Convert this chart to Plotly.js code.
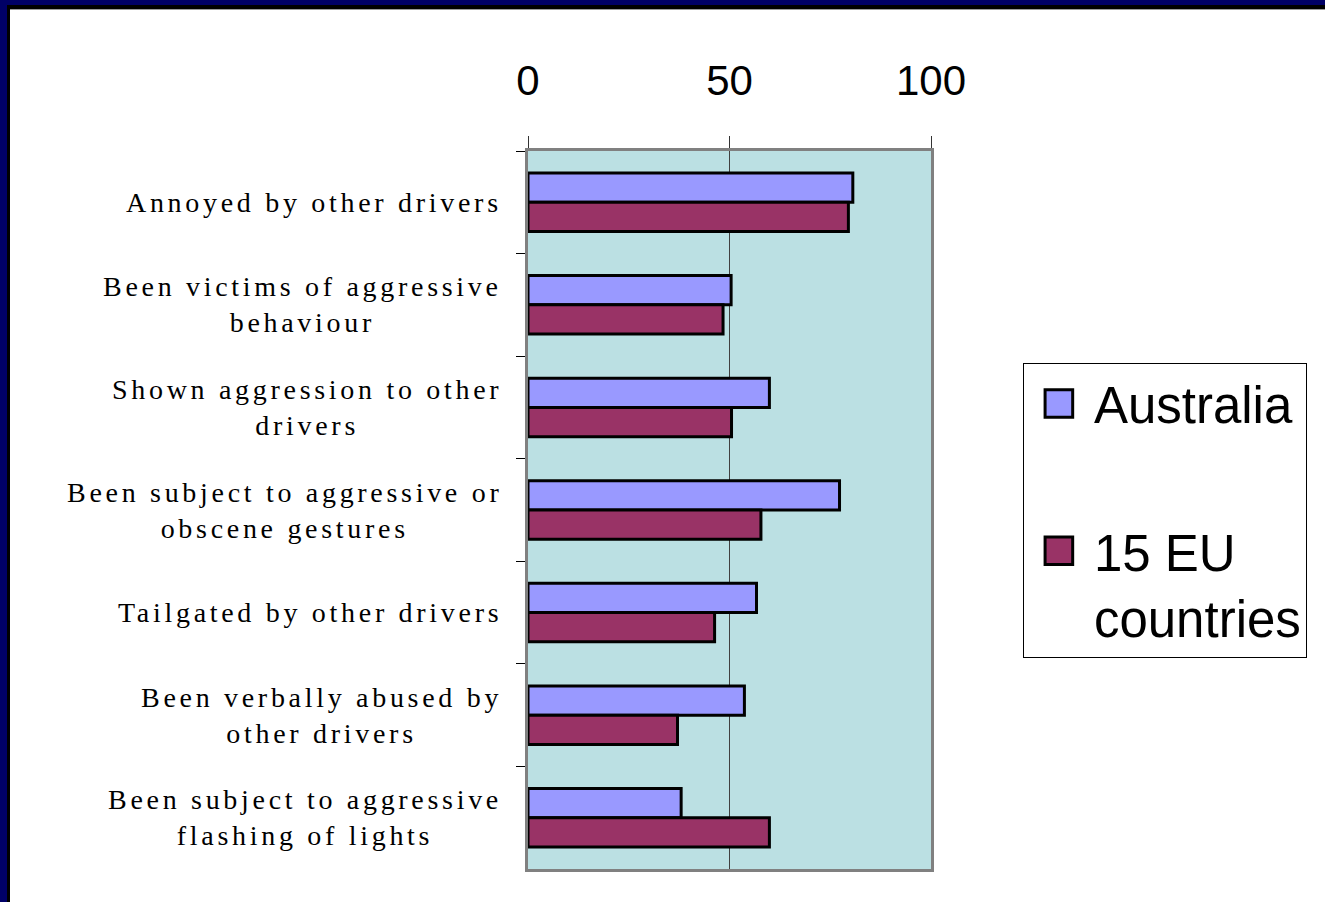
<!DOCTYPE html>
<html>
<head>
<meta charset="utf-8">
<script src="https://cdn.plot.ly/plotly-3.0.1.min.js"></script>
<style>
  html, body { margin: 0; padding: 0; background: #ffffff; }
  #wrap { position: relative; width: 1325px; height: 902px; overflow: hidden; }
  #chart { position: absolute; left: 0; top: 0; width: 1325px; height: 902px; }
  .bar { position: absolute; }
  .annotation-text { letter-spacing: 3.7px; }
  .legendpoints path { transform: translate(35px, 0px) scale(2.3); vector-effect: non-scaling-stroke; }
</style>
</head>
<body>
<div id="wrap">
  <div id="chart"></div>
  <div class="bar" style="left:0;top:0;width:1325px;height:5px;background:#000066;"></div>
  <div class="bar" style="left:0;top:5px;width:1325px;height:4px;background:#000000;"></div>
  <div class="bar" style="left:10px;top:9px;width:1315px;height:1px;background:#999999;"></div>
  <div class="bar" style="left:0;top:0;width:7px;height:902px;background:#000066;"></div>
  <div class="bar" style="left:7px;top:5px;width:3px;height:897px;background:#000000;"></div>
</div>
<script>
// ---- data ----
const categories = [
  "Annoyed by other drivers",
  "Been victims of aggressive behaviour",
  "Shown aggression to other drivers",
  "Been subject to aggressive or obscene gestures",
  "Tailgated by other drivers",
  "Been verbally abused by other drivers",
  "Been subject to aggressive flashing of lights"
];
const categoryLabels = [
  "Annoyed by other drivers",
  "Been victims of aggressive<br>behaviour",
  "Shown aggression to other<br>drivers",
  "Been subject to aggressive or<br>obscene gestures",
  "Tailgated by other drivers",
  "Been verbally abused by<br>other drivers",
  "Been subject to aggressive<br>flashing of lights"
];
const australia = [80.6, 50.4, 59.9, 77.3, 56.7, 53.7, 38.0];
const eu15 = [79.5, 48.4, 50.5, 57.8, 46.3, 37.1, 59.9];
const seriesNames = ["Australia", "15 EU<br>countries"];
const xTickVals = [0, 50, 100];
const xTickText = ["0", "50", "100"];

// ---- chart ----
const traces = [
  {
    type: "bar", orientation: "h", name: seriesNames[0], legendgroup: "a",
    y: categories, x: australia,
    marker: { color: "#9999FF", line: { color: "#000000", width: 3 } },
    hoverinfo: "x+name"
  },
  {
    type: "bar", orientation: "h", name: seriesNames[1], legendgroup: "b",
    y: categories, x: eu15,
    marker: { color: "#993366", line: { color: "#000000", width: 3 } },
    hoverinfo: "x+name"
  }
];

const annotations = categories.map((c, i) => ({
  xref: "paper", yref: "y", x: -0.060, y: c,
  xanchor: "right", yanchor: "middle", align: "center",
  text: categoryLabels[i], showarrow: false,
  font: { family: "Liberation Serif, Times New Roman, serif", size: 28, color: "#000000" }
}));

const layout = {
  width: 1325, height: 902,
  paper_bgcolor: "#ffffff",
  plot_bgcolor: "#BBE0E3",
  margin: { l: 528, r: 394, t: 151, b: 33, pad: 0 },
  barmode: "group", bargap: 0.43, bargroupgap: 0,
  showlegend: true,
  legend: {
    x: 1.228, y: 0.705, xanchor: "left", yanchor: "top",
    bgcolor: "#ffffff", bordercolor: "#000000", borderwidth: 1,
    font: { family: "Liberation Sans, Arial, sans-serif", size: 51, color: "#000000" },
    itemwidth: 60, valign: "top", tracegroupgap: 78,
    traceorder: "grouped"
  },
  xaxis: {
    side: "top", range: [0, 100], fixedrange: true,
    tickmode: "array", tickvals: xTickVals, ticktext: xTickText,
    ticks: "outside", ticklen: 12, tickwidth: 1, tickcolor: "#333333",
    ticklabelstandoff: 24,
    tickfont: { family: "Liberation Sans, Arial, sans-serif", size: 42, color: "#000000" },
    showgrid: true, gridcolor: "#404040", gridwidth: 1,
    zeroline: false,
    showline: true, mirror: true, linecolor: "#808080", linewidth: 3
  },
  yaxis: {
    type: "category", autorange: "reversed", fixedrange: true,
    tickson: "boundaries", ticks: "outside", ticklen: 9, tickwidth: 1, tickcolor: "#000000",
    showticklabels: false, showgrid: false, zeroline: false,
    showline: true, mirror: true, linecolor: "#808080", linewidth: 3
  },
  annotations: annotations
};

Plotly.newPlot("chart", traces, layout, { displayModeBar: false, staticPlot: false });
</script>
</body>
</html>
